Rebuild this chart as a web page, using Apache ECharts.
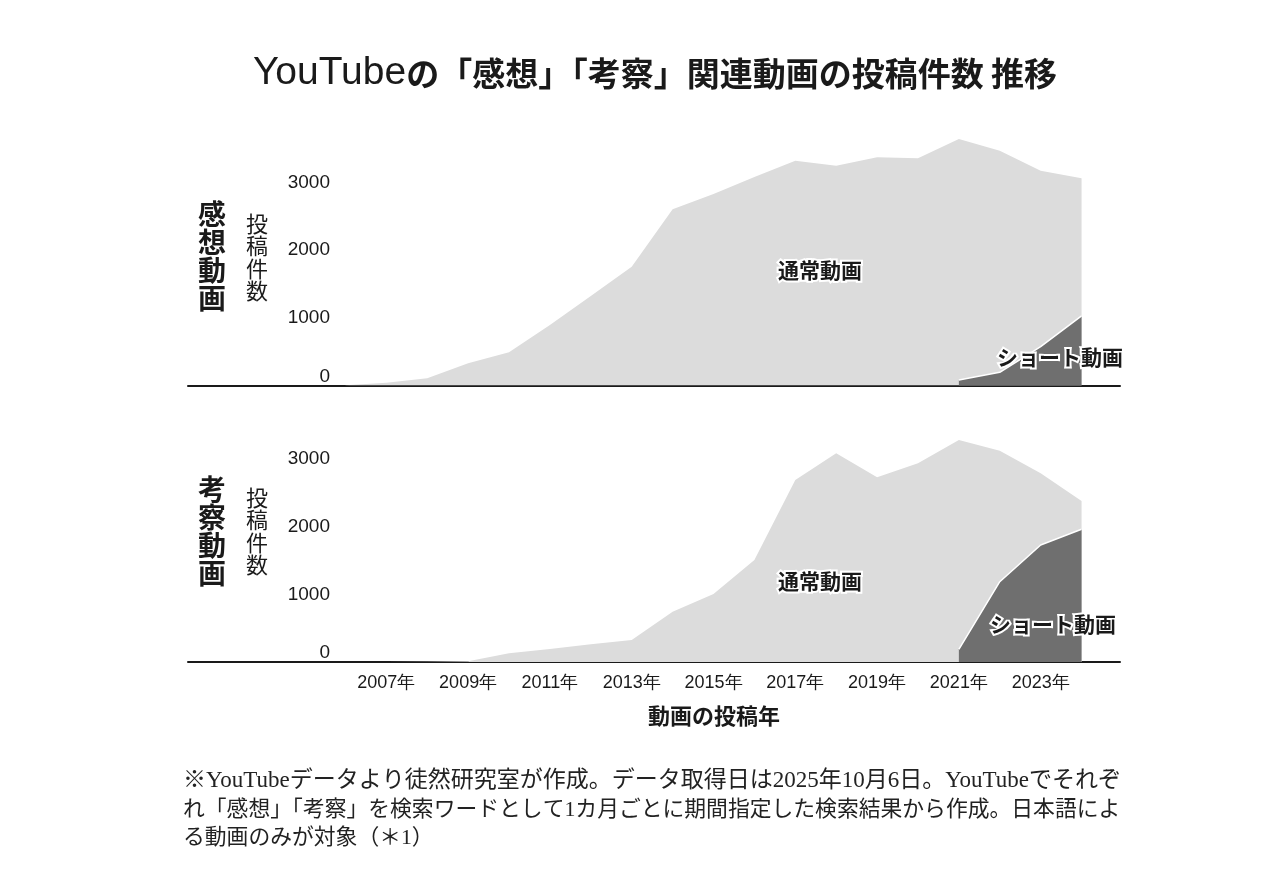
<!DOCTYPE html>
<html><head><meta charset="utf-8">
<script src="https://cdn.jsdelivr.net/npm/echarts@6/dist/echarts.min.js"></script>
<style>html,body{margin:0;padding:0;background:#fff}#c{width:1280px;height:894px}</style>
</head><body><div id="c"></div>
<script>
// ---- data ----
const years = [2006,2007,2008,2009,2010,2011,2012,2013,2014,2015,2016,2017,2018,2019,2020,2021,2022,2023,2024];
// 感想 (impressions) videos
const kansouNormal = [5,40,106,328,490,894,1322,1755,2603,2829,3080,3321,3247,3371,3356,3560,3274,2600,2033];
const kansouShort  = [null,null,null,null,null,null,null,null,null,null,null,null,null,null,null,81,195,573,1027];
// 考察 (analysis) videos
const kousatsuNormal = [0,0,5,10,128,192,261,325,743,1004,1507,2688,3082,2728,2935,3092,1935,1059,418];
const kousatsuShort  = [null,null,null,null,null,null,null,null,null,null,null,null,null,null,null,187,1186,1728,1960];
const xTickYears = [2007,2009,2011,2013,2015,2017,2019,2021,2023];

const LIGHT = '#dcdcdc', DARK = '#6f6f6f', INK = '#1a1a1a';
const CJK = 'Noto Sans CJK JP, sans-serif';
const totalOf = (n, s) => n.map((v, i) => v + (s[i] || 0));
const pairs = arr => years.map((y, i) => [y, arr[i]]);

const chart = echarts.init(document.getElementById('c'));
const xMin = 2002.15, xMax = 2024.94;
function xAxisCfg(gi, showLabels) {
  return {
    type: 'value', gridIndex: gi, min: xMin, max: xMax,
    axisLine: { show: true, onZero: false, lineStyle: { color: INK, width: 2 } },
    axisTick: { show: false }, splitLine: { show: false },
    axisLabel: showLabels ? {
      show: true, customValues: xTickYears, formatter: v => v + '年',
      color: INK, fontSize: 18, fontFamily: 'Liberation Sans, Arial, sans-serif', margin: 12
    } : { show: false }
  };
}
function yAxisCfg(gi) {
  return {
    type: 'value', gridIndex: gi, min: 0, max: 4000, interval: 1000, offset: -150,
    axisLine: { show: false }, axisTick: { show: false }, splitLine: { show: false },
    axisLabel: {
      showMaxLabel: false, margin: 8, color: INK, fontSize: 19,
      fontFamily: 'Liberation Sans, Arial, sans-serif',
      formatter: v => v === 0 ? '{z|0}' : String(v),
      rich: { z: { fontSize: 19, color: INK, fontFamily: 'Liberation Sans, Arial, sans-serif', padding: [0, 0, 18, 0] } }
    }
  };
}
function areaSeries(gi, data, color, z, line) {
  return {
    type: 'line', xAxisIndex: gi, yAxisIndex: gi, data: pairs(data),
    symbol: 'none', smooth: false, z: z, silent: true,
    lineStyle: line ? { color: '#ffffff', width: 1.5 } : { width: 0 },
    areaStyle: { color: color, opacity: 1 }
  };
}
const halo = { fill: INK, stroke: '#ffffff', lineWidth: 4 };
function txt(x, y, text, size, weight, extra) {
  return { type: 'text', x: x, y: y, z: 100, style: Object.assign({ text: text, fontSize: size, fontWeight: weight, fill: INK,
    fontFamily: CJK, align: 'center', verticalAlign: 'middle' }, extra || {}) };
}
function foot(y, text, size) {
  return { type: 'text', x: 183, y: y, z: 100, style: { text: text, fontSize: size, fill: '#222',
    fontFamily: 'Liberation Serif, Noto Sans CJK JP, serif', align: 'left', verticalAlign: 'middle' } };
}

chart.setOption({
  animation: false,
  backgroundColor: '#ffffff',
  grid: [
    { left: 188, width: 932, top: 114.7, height: 270.8 },
    { left: 188, width: 932, top: 391.2, height: 270.8 }
  ],
  xAxis: [xAxisCfg(0, false), xAxisCfg(1, true)],
  yAxis: [yAxisCfg(0), yAxisCfg(1)],
  series: [
    areaSeries(0, totalOf(kansouNormal, kansouShort), LIGHT, 1, false),
    areaSeries(0, kansouShort, DARK, 2, true),
    areaSeries(1, totalOf(kousatsuNormal, kousatsuShort), LIGHT, 1, false),
    areaSeries(1, kousatsuShort, DARK, 2, true)
  ],
  graphic: [
    { type: 'text', x: 655, y: 73, z: 100, style: {
      text: '{l|YouTube}{c|の「感想」「考察」関連動画の投稿件数 推移}',
      align: 'center', verticalAlign: 'middle',
      rich: {
        l: { fontSize: 39, fontFamily: 'Liberation Sans, Arial, sans-serif', fill: INK, fontWeight: 'normal', verticalAlign: 'middle' },
        c: { fontSize: 33, fontFamily: CJK, fill: INK, fontWeight: 'bold', verticalAlign: 'middle' }
      } } },
    txt(212, 256, '感\n想\n動\n画', 28, 'bold', { lineHeight: 28 }),
    txt(257, 257, '投\n稿\n件\n数', 22, 'normal', { lineHeight: 22.5 }),
    txt(212, 531, '考\n察\n動\n画', 28, 'bold', { lineHeight: 28 }),
    txt(257, 531, '投\n稿\n件\n数', 22, 'normal', { lineHeight: 22.5 }),
    txt(820, 270, '通常動画', 21, 'bold', halo),
    txt(820, 581, '通常動画', 21, 'bold', halo),
    txt(1060, 357, 'ショート動画', 21, 'bold', halo),
    txt(1053, 624, 'ショート動画', 21, 'bold', halo),
    txt(714, 716, '動画の投稿年', 22, 'bold'),
    foot(781, '※YouTubeデータより徒然研究室が作成。データ取得日は2025年10月6日。YouTubeでそれぞ', 23),
    foot(810, 'れ「感想」「考察」を検索ワードとして1カ月ごとに期間指定した検索結果から作成。日本語によ', 21.8),
    foot(838, 'る動画のみが対象（＊1）', 21.8)
  ]
});
</script></body></html>
